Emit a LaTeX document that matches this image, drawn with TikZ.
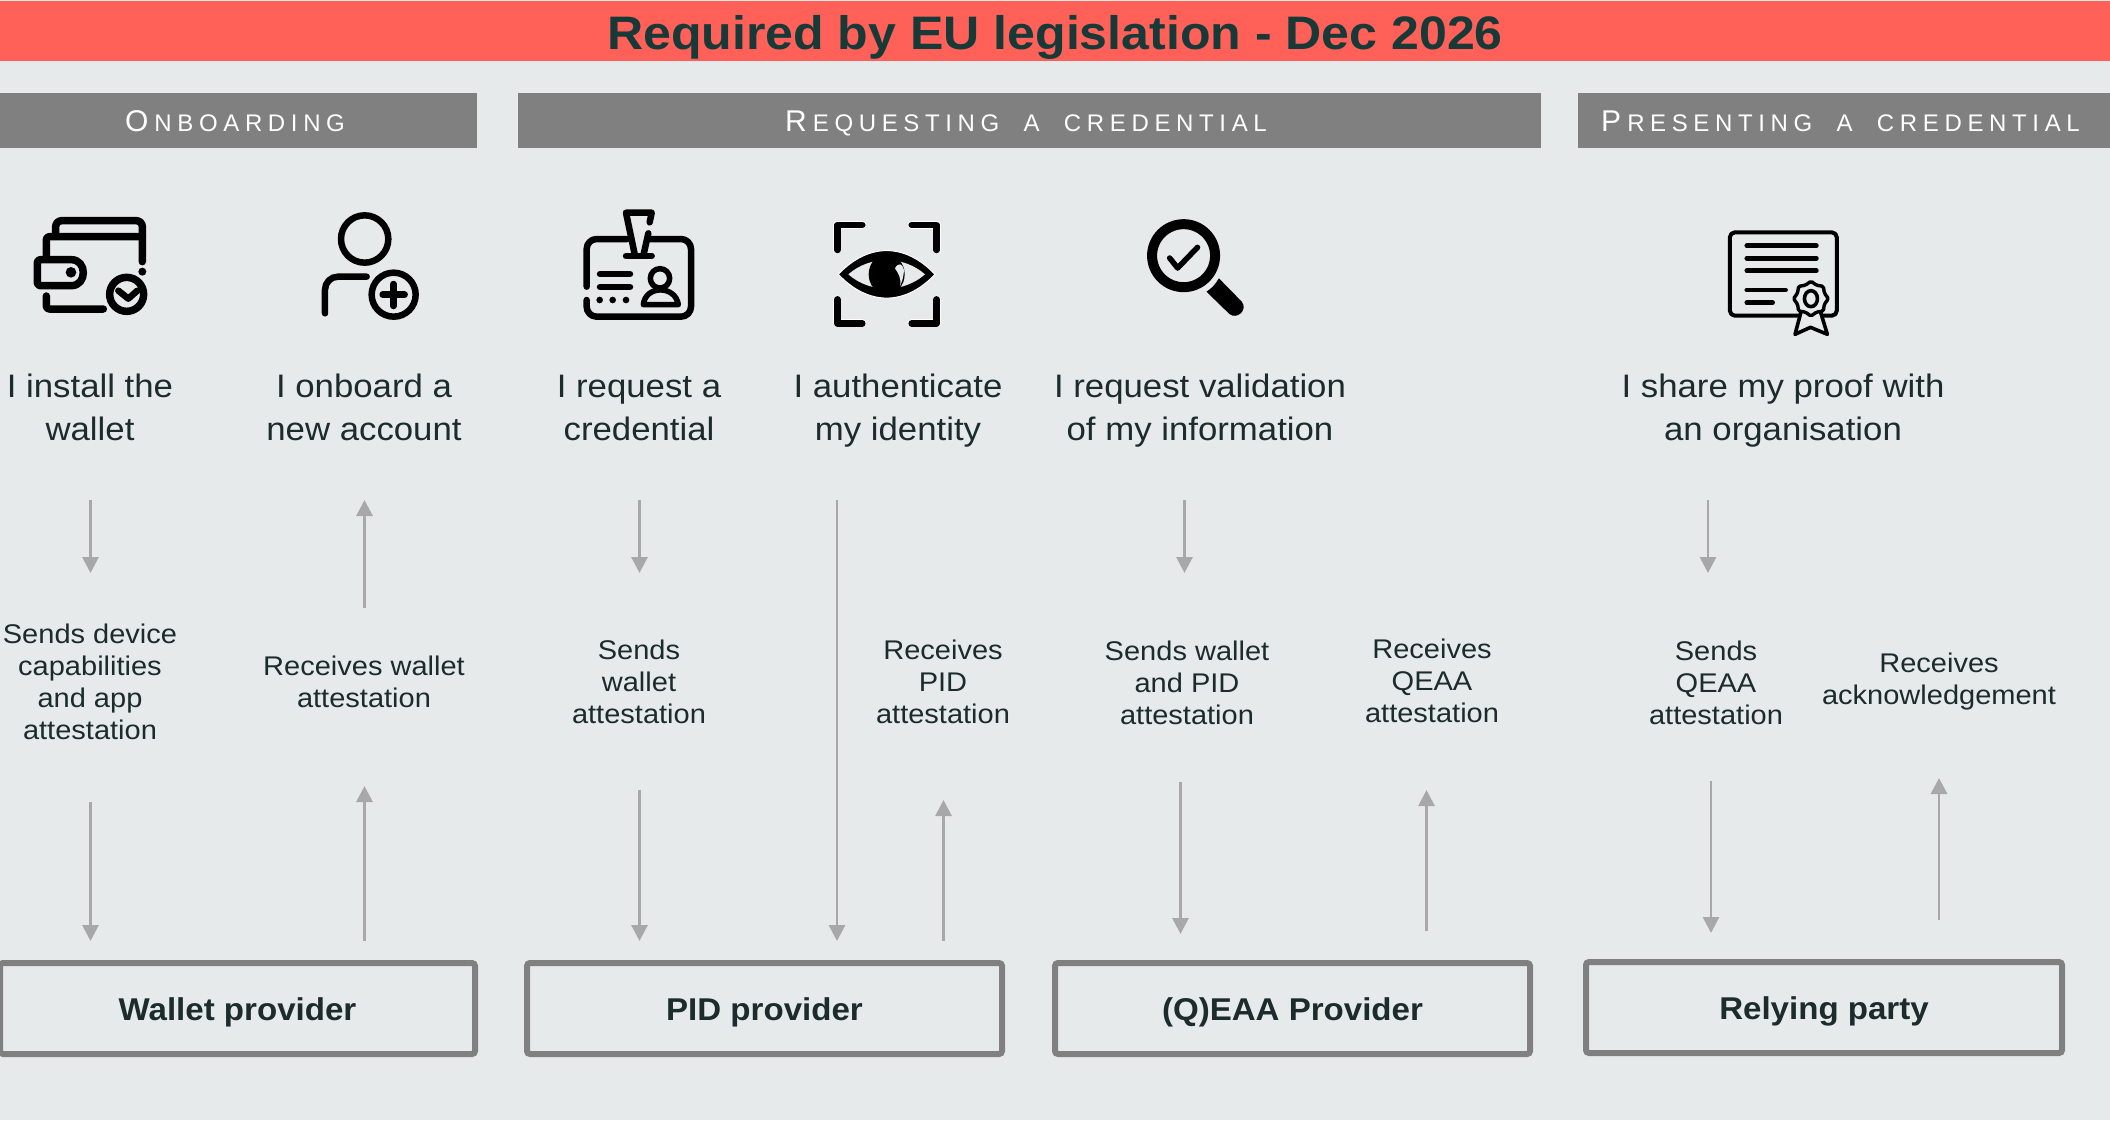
\documentclass[tikz,border=0pt]{standalone}
\usepackage{fontspec}
\setmainfont{Liberation Sans}
\usetikzlibrary{arrows.meta}
\definecolor{bgc}{HTML}{E7EAEB}
\definecolor{redc}{HTML}{FF6159}
\definecolor{greyc}{HTML}{808080}
\definecolor{arrc}{HTML}{A8A8A8}
\definecolor{titlec}{HTML}{173A38}
\definecolor{txtc}{HTML}{1C2B2B}
\newcommand{\capsl}[2]{{\fontsize{30}{30}\selectfont #1}\hspace{6pt}{\fontsize{24}{24}\selectfont\addfontfeature{LetterSpace=23.5}#2}\kern7pt\relax}
\newcommand{\wsp}{\hspace{12pt} }
\tikzset{
  bar/.style={fill=greyc,text=white,minimum height=55pt,inner sep=0pt,text height=24pt,text depth=2pt},
  mainlabel/.style={align=center,inner sep=0pt,text=txtc,font=\fontsize{32.5}{43}\selectfont\addfontfeature{FakeStretch=1.07}},
  sublabel/.style={align=center,inner sep=0pt,text=txtc,font=\fontsize{27}{32}\selectfont\addfontfeature{FakeStretch=1.075}},
  prov/.style={draw=greyc,line width=6pt,rounded corners=3pt,minimum height=91pt,inner sep=0pt,text=txtc,text height=30pt,text depth=6pt,font=\fontsize{31.5}{32}\selectfont\bfseries\addfontfeature{FakeStretch=1.05}},
  arr/.style={draw=arrc,line width=2.9pt,-{Triangle[width=16pt,length=16pt,fill=arrc]}},
  ic/.style={draw=black,line cap=round,line join=round},
}
\begin{document}
\begin{tikzpicture}[x=1pt,y=-1pt]
\useasboundingbox (0,0) rectangle (2110,1120);
\fill[bgc] (0,0) rectangle (2110,1120);
% title
\node[fill=redc,minimum width=2110pt,minimum height=60pt,inner sep=0pt,text=titlec,text height=46pt,text depth=10pt,font=\fontsize{47}{47}\selectfont\bfseries\addfontfeature{FakeStretch=1.065}] (title) at (1055,31) {Required by EU legislation - Dec 2026};
% section bars
\node[bar,minimum width=477pt] (s1) at (238.5,120.5) {\capsl{O}{NBOARDING}};
\node[bar,minimum width=1023pt] (s2) at (1029.5,120.5) {\capsl{R}{EQUESTING\wsp A\wsp CREDENTIAL}};
\node[bar,minimum width=532pt] (s3) at (1844,120.5) {\capsl{P}{RESENTING\wsp A\wsp CREDENTIAL}};
% main labels
\node[mainlabel] (m1) at (90,407) {I install the\\wallet};
\node[mainlabel] (m2) at (364,407) {I onboard a\\new account};
\node[mainlabel] (m3) at (639,407.5) {I request a\\credential};
\node[mainlabel] (m4) at (898,410.7) {I authenticate\\my identity};
\node[mainlabel] (m5) at (1200,410.7) {I request validation\\of my information};
\node[mainlabel] (m6) at (1783,410.7) {I share my proof with\\an organisation};
% sub labels
\node[sublabel] (t1) at (90,682) {Sends device\\capabilities\\and app\\attestation};
\node[sublabel] (t2) at (364,682) {Receives wallet\\attestation};
\node[sublabel] (t3) at (639,682) {Sends\\wallet\\attestation};
\node[sublabel] (t4) at (943,682) {Receives\\PID\\attestation};
\node[sublabel] (t5) at (1187,683) {Sends wallet\\and PID\\attestation};
\node[sublabel] (t6) at (1432,681) {Receives\\QEAA\\attestation};
\node[sublabel] (t7) at (1716,683) {Sends\\QEAA\\attestation};
\node[sublabel] (t8) at (1939,681.7) {Receives\\acknowledgement};
% provider boxes
\node[prov,minimum width=475pt] (p1) at (237.5,1008.5) {Wallet provider};
\node[prov,minimum width=475pt] (p2) at (764.5,1008.5) {PID provider};
\node[prov,minimum width=475pt] (p3) at (1292.5,1008.5) {(Q)EAA Provider};
\node[prov,minimum width=476pt] (p4) at (1824,1007.5) {Relying party};
% arrows
\foreach \n/\x/\a/\b in {
  1/90.5/500/573, 2/364.5/608/500, 3/639.5/500/573, 4/837/500/941, 5/1184.5/500/573, 6/1708/500/573,
  7/90.5/802/941, 8/364.5/941/786, 9/639.5/790/941, 10/943.5/941/800, 11/1180.5/782/934, 12/1426.5/931/790, 13/1711/781/933, 14/1939/920/778}{
  \coordinate (as\n) at (\x,\a);
  \coordinate (ae\n) at (\x,\b);
  \draw[arr] (as\n) -- (ae\n);
}
% wallet icon
\begin{scope}[shift={(0,190)},x=0.33333pt,y=-0.33333pt]
  \draw[ic,line width=7.5pt,rounded corners=6pt] (167,130) -- (167,92) -- (427,92) -- (427,215);
  \draw[ic,line width=7.5pt,rounded corners=3pt] (139,205) -- (139,140) -- (427,140);
  \draw[ic,line width=7.5pt,rounded corners=3pt] (139,318) -- (139,357) -- (310,357);
  \draw[ic,line width=7.5pt,rounded corners=3pt] (112,209) -- (205,209) .. controls (262,209) and (262,287) .. (205,287) -- (112,287) -- cycle;
  \fill (213,247) circle[radius=16];
  \fill (427,245) circle[radius=12];
  \draw[ic,line width=7.5pt] (380,313) circle[radius=51];
  \draw[ic,line width=6.5pt] (355,302) -- (385,326) -- (412,302);
\end{scope}
% person plus icon
\begin{scope}[shift={(0,190)},x=0.33333pt,y=-0.33333pt]
  \draw[ic,line width=6.5pt] (1094,147) circle[radius=71];
  \draw[ic,line width=6.5pt,rounded corners=13pt] (975,370) -- (975,260) -- (1100,260);
  \draw[ic,line width=6.5pt] (1181,314) circle[radius=66];
  \draw[ic,line width=6.5pt] (1148,314) -- (1214,314);
  \draw[ic,line width=6.5pt] (1181,282) -- (1181,348);
\end{scope}
% badge icon
\begin{scope}[shift={(540,190)},x=0.33333pt,y=-0.33333pt]
  \draw[ic,line width=6.5pt,rounded corners=10pt] (140,290) -- (140,147) -- (262,147);
  \draw[ic,line width=6.5pt,rounded corners=10pt] (322,147) -- (453,147) -- (453,380) -- (140,380) -- (140,330);
  \draw[ic,line width=6.5pt] (258,198) -- (335,198);
  \draw[ic,line width=6.5pt] (285,197) -- (258,68) -- (335,68) -- (329,97);
  \draw[ic,line width=6.5pt] (325,130) -- (310,197);
  \draw[ic,line width=6.5pt] (180,252) -- (270,252);
  \draw[ic,line width=6.5pt] (180,291) -- (270,291);
  \fill (179,330) circle[radius=10];
  \fill (218,330) circle[radius=10];
  \fill (258,330) circle[radius=10];
  \draw[ic,line width=5.5pt] (360,265) circle[radius=29];
  \draw[ic,line width=5.5pt] (310,344) .. controls (316,285) and (406,285) .. (415,344) -- cycle;
\end{scope}
% eye icon
\begin{scope}[shift={(540,190)},x=0.33333pt,y=-0.33333pt]
  \foreach \a/\b/\c/\d/\e/\f in {892/180/892/105/967/105, 1115/105/1190/105/1190/180, 892/328/892/400/967/400, 1115/400/1190/400/1190/328}{
    \draw[line cap=round,line join=round,draw=white,line width=8pt] (\a,\b) -- (\c,\d) -- (\e,\f);
    \draw[ic,line width=6.5pt] (\a,\b) -- (\c,\d) -- (\e,\f);
  }
  \draw[draw=white,line width=1pt,fill=black] (895,253) .. controls (985,158) and (1095,158) .. (1185,253) .. controls (1095,348) and (985,348) .. cycle;
  \fill[bgc] (925,253) .. controls (990,196) and (1090,196) .. (1155,253) .. controls (1090,310) and (990,310) .. cycle;
  \fill[black] (1040,253) ellipse[x radius=54,y radius=60];
  \fill[bgc] (1065,235) .. controls (1075,215) and (1088,222) .. (1092,240) .. controls (1090,262) and (1088,270) .. (1080,288) .. controls (1085,265) and (1075,250) .. (1065,235) -- cycle;
\end{scope}
% magnifier icon
\begin{scope}[shift={(1100,190)},x=0.49751pt,y=-0.33333pt]
  \draw[ic,line width=10pt] (168,197) ellipse[x radius=31.5pt,y radius=31.5pt];
  \fill (239,265) -- (285,335) .. controls (298,360) and (275,390) .. (260,372) -- (214,305) .. controls (225,295) and (232,282) .. cycle;
  \draw[ic,line width=5.5pt] (140,204) -- (156,234) -- (196,172);
\end{scope}
% certificate icon
\begin{scope}[shift={(1100,190)},x=0.49751pt,y=-0.33333pt]
  \draw[ic,line width=4pt,rounded corners=5pt] (1266,127) rectangle (1481,377);
  \foreach \a/\b/\c in {1300/1440/167, 1300/1440/205, 1300/1440/242, 1300/1378/300, 1300/1352/338}{
    \draw[ic,line width=4.6pt] (\a,\c) -- (\b,\c);
  }
  \draw[ic,line width=3.6pt,fill=bgc] (1410,360) -- (1397,433) -- (1428,412) -- (1462,433) -- (1447,360);
  \fill[bgc] (1412,350) rectangle (1445,390);
  \begin{scope}[shift={(1429,326)},x=1pt,y=-1pt]
    \draw[ic,line width=3.4pt,fill=bgc,rounded corners=1.5pt] (0:17.5) -- (22.5:14.5) -- (45:17.5) -- (67.5:14.5) -- (90:17.5) -- (112.5:14.5) -- (135:17.5) -- (157.5:14.5) -- (180:17.5) -- (202.5:14.5) -- (225:17.5) -- (247.5:14.5) -- (270:17.5) -- (292.5:14.5) -- (315:17.5) -- (337.5:14.5) -- cycle;
    \draw[ic,line width=3.6pt] (0,0) ellipse[x radius=6.5,y radius=8];
  \end{scope}
\end{scope}
\end{tikzpicture}
\end{document}
